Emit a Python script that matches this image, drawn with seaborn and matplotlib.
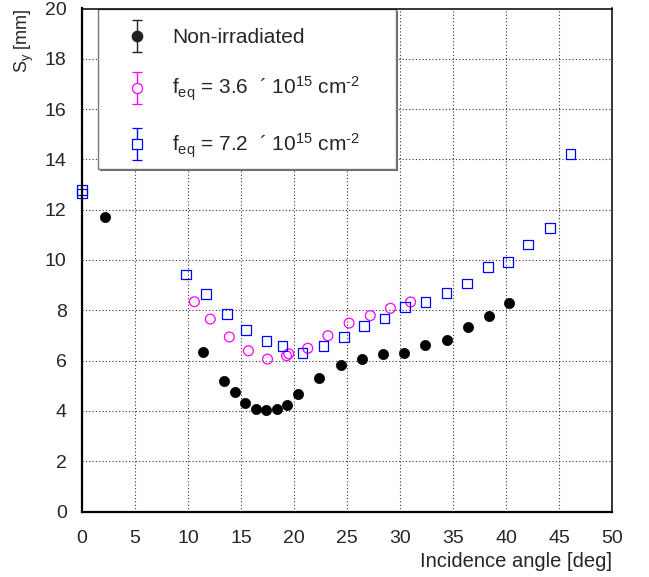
# plot.py
# Cluster size S_y versus incidence angle for three sensor fluences
# Recreates a ROOT-style plot: inward ticks, dotted grid, boxed legend

import numpy as np
import pandas as pd
import matplotlib
matplotlib.use("Agg")
import matplotlib.pyplot as plt
import seaborn as sns
from matplotlib.legend_handler import HandlerErrorbar
from matplotlib.patches import Rectangle
from matplotlib.ticker import MultipleLocator

# --- data ---
# Non-irradiated sensor (black filled circles)
angle_nonirr = [2.2, 11.4, 13.4, 14.4, 15.4, 16.4, 17.4, 18.4, 19.3, 20.4,
                22.4, 24.4, 26.4, 28.4, 30.4, 32.4, 34.4, 36.4, 38.4, 40.3]
sy_nonirr = [11.70, 6.35, 5.20, 4.74, 4.33, 4.06, 4.02, 4.09, 4.22, 4.68,
             5.31, 5.83, 6.07, 6.27, 6.30, 6.62, 6.83, 7.34, 7.79, 8.28]

# phi_eq = 3.6e15 (magenta open circles)
angle_36 = [10.6, 12.1, 13.9, 15.7, 17.5, 19.3, 19.5, 21.3, 23.2, 25.2,
            27.2, 29.1, 31.0]
sy_36 = [8.34, 7.65, 6.94, 6.39, 6.06, 6.19, 6.27, 6.49, 6.99, 7.49,
         7.79, 8.08, 8.33]

# phi_eq = 7.2e15 (blue open squares)
angle_72 = [0.0, 0.0, 9.8, 11.7, 13.65, 15.5, 17.4, 18.9, 20.8, 22.8, 24.7,
            26.6, 28.55, 30.5, 32.4, 34.4, 36.3, 38.3, 40.2, 42.1, 44.15, 46.1]
sy_72 = [12.78, 12.65, 9.42, 8.65, 7.85, 7.22, 6.77, 6.59, 6.31, 6.59, 6.94,
         7.37, 7.68, 8.14, 8.33, 8.70, 9.07, 9.73, 9.93, 10.62, 11.26, 14.21]

labels = [
    "Non-irradiated",
    r"f$_{\mathrm{eq}}$ = 3.6  ´ 10$^{15}$ cm$^{\text{-2}}$",
    r"f$_{\mathrm{eq}}$ = 7.2  ´ 10$^{15}$ cm$^{\text{-2}}$",
]

# style first, fonts after (set_style resets font.family)
sns.set_style("white")
plt.rcParams["font.family"] = ["Liberation Sans", "DejaVu Sans"]
plt.rcParams["mathtext.fontset"] = "custom"
plt.rcParams["mathtext.rm"] = "Liberation Sans"
plt.rcParams["mathtext.it"] = "Liberation Sans:italic"

fig = plt.figure(figsize=(6.49, 5.77), dpi=100)
ax = fig.add_axes([82 / 649, 1 - 511.5 / 577, 530 / 649, 503 / 577])

df_nonirr = pd.DataFrame({"angle": angle_nonirr, "sy": sy_nonirr})
df_36 = pd.DataFrame({"angle": angle_36, "sy": sy_36})
df_72 = pd.DataFrame({"angle": angle_72, "sy": sy_72})

# the points themselves (errors are smaller than the markers)
sns.scatterplot(data=df_nonirr, x="angle", y="sy", ax=ax, marker="o", s=54,
                color="black", edgecolor="black", linewidth=0.5,
                legend=False, zorder=3, clip_on=False)
sns.scatterplot(data=df_36, x="angle", y="sy", ax=ax, marker="o", s=50,
                color="#ff00ff", facecolor="none", edgecolor="#ff00ff",
                linewidth=0.9, legend=False, zorder=3, clip_on=False)
sns.scatterplot(data=df_72, x="angle", y="sy", ax=ax, marker="s", s=48,
                color="#0000ff", facecolor="none", edgecolor="#0000ff",
                linewidth=0.9, legend=False, zorder=4, clip_on=False)

# legend handles drawn as error bars, like the ROOT legend
h0 = ax.errorbar([np.nan], [np.nan], yerr=[np.nan], fmt="o", color="#222222",
                 ms=7.4, capsize=3.5, elinewidth=1, capthick=1)
h1 = ax.errorbar([np.nan], [np.nan], yerr=[np.nan], fmt="o", color="#ff00ff",
                 mfc="white", ms=7.2, mew=0.9, capsize=3.5, elinewidth=1, capthick=1)
h2 = ax.errorbar([np.nan], [np.nan], yerr=[np.nan], fmt="s", color="#0000ff",
                 mfc="white", ms=6.9, mew=0.9, capsize=3.5, elinewidth=1, capthick=1)

# legend box drawn separately (ROOT style: gray frame with a thin shadow)
box_x, box_y, box_w, box_h = 0.030, 0.681, 0.562, 0.319
shadow = Rectangle((box_x + 0.004, box_y - 0.004), box_w, box_h,
                   transform=ax.transAxes, facecolor="#666666",
                   edgecolor="none", zorder=8, clip_on=False)
frame = Rectangle((box_x, box_y), box_w, box_h, transform=ax.transAxes,
                  facecolor="white", edgecolor="#777777", linewidth=1.0,
                  zorder=9, clip_on=False)
ax.add_patch(shadow)
ax.add_patch(frame)

leg = ax.legend(
    [h0, h1, h2], labels,
    loc="upper left", bbox_to_anchor=(box_x, 1.0),
    borderaxespad=0, fontsize=15, frameon=False,
    borderpad=0.95, handlelength=1.85, handletextpad=0.75, labelspacing=1.33,
    handler_map={type(h0): HandlerErrorbar(yerr_size=0.77)},
)
leg.set_zorder(10)

# axes ranges and ticks
ax.set_xlim(0, 50)
ax.set_ylim(0, 20)
ax.xaxis.set_major_locator(MultipleLocator(5))
ax.xaxis.set_minor_locator(MultipleLocator(1))
ax.yaxis.set_major_locator(MultipleLocator(2))
ax.yaxis.set_minor_locator(MultipleLocator(0.5))
ax.tick_params(which="both", direction="in", top=False, right=False,
               color="black", width=1)
ax.tick_params(which="major", length=6)
ax.tick_params(which="minor", length=3.3)
ax.tick_params(axis="x", which="major", labelsize=14, pad=13)
ax.tick_params(axis="y", which="major", labelsize=14, pad=11)

ax.grid(True, which="major", linestyle=(0, (1, 2)), color="#333333",
        linewidth=0.8)
ax.set_axisbelow(True)

for side in ["left", "bottom"]:
    ax.spines[side].set_linewidth(1.6)
for side in ["top", "right"]:
    ax.spines[side].set_linewidth(1.1)
for side in ax.spines:
    ax.spines[side].set_color("black")
    ax.spines[side].set_zorder(11)

# axis titles, ROOT puts them at the far end of each axis
ax.set_xlabel("Incidence angle [deg]", fontsize=14.5, loc="right")
ax.xaxis.set_label_coords(1.0, -0.081)
ax.set_ylabel(r"S$_{\mathrm{y}}$ [mm]", fontsize=13, loc="top")
ax.yaxis.set_label_coords(-0.086, 1.0)

fig.savefig("out.png", dpi=100)
